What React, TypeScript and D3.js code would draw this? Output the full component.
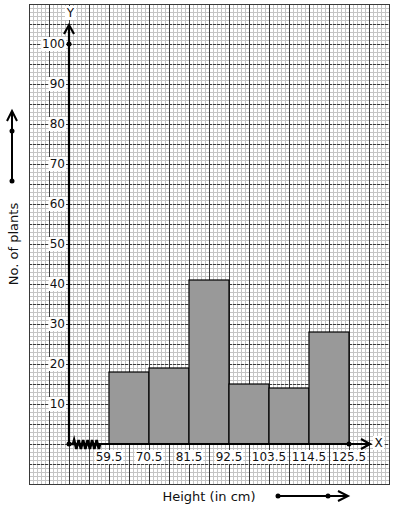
import React from "react";
import * as d3 from "d3";

const classEdges = [59.5, 70.5, 81.5, 92.5, 103.5, 114.5, 125.5];
const frequencies = [18, 19, 41, 15, 14, 28];
const yTicks = [10, 20, 30, 40, 50, 60, 70, 80, 90, 100];
const xTitle = "Height (in cm)";
const yTitle = "No. of plants";

const W = 394;
const H = 510;
const FONT = "DejaVu Sans, sans-serif";

export default function App() {
  // scales
  const x = d3.scaleLinear().domain([59.5, 125.5]).range([109, 349]);
  const y = d3.scaleLinear().domain([0, 100]).range([444, 44]);
  const originX = x(59.5) - 40; // axis break gap
  const originY = y(0);

  // graph paper extents (data units)
  const yMin = -10, yMax = 110;
  const gx0 = 29, gx1 = 389;
  const gy0 = y(yMax), gy1 = y(yMin);

  const minorX = d3.range(gx0, gx1 + 0.1, 4);
  const minorY = d3.range(yMin, yMax + 0.1, 1).map((v) => y(v));
  const majorX = d3.range(gx0, gx1 + 0.1, 20);
  const majorY = d3.range(yMin, yMax + 0.1, 5).map((v) => y(v));

  const bars = frequencies.map((f, i) => ({
    x0: x(classEdges[i]),
    x1: x(classEdges[i + 1]),
    y: y(f),
  }));

  // zigzag for axis break
  const zz: string[] = [`M${originX},${originY}`, `L${originX + 4},${originY}`];
  const teeth = 6;
  const zStart = originX + 4;
  const zEnd = x(59.5) - 9;
  const step = (zEnd - zStart) / teeth;
  for (let i = 0; i < teeth; i++) {
    zz.push(`L${zStart + step * (i + 0.25)},${originY - 4}`);
    zz.push(`L${zStart + step * (i + 0.75)},${originY + 5}`);
  }
  zz.push(`L${zEnd},${originY}`);

  const labelW = (s: string) => {
    let w = 0;
    for (const c of s) w += c === "." ? 3.8 : 7.63;
    return w;
  };

  const arrowTop = 25;
  const arrowRight = 370;

  return (
    <svg
      width={W}
      height={H}
      style={{ position: "absolute", left: 0, top: 0, background: "#fff" }}
      fontFamily={FONT}
    >
      <rect x={0} y={0} width={W} height={H} fill="#fff" />
      {/* minor grid */}
      <g stroke="#c4c4c4" strokeWidth={1} shapeRendering="crispEdges">
        {minorX.map((px, i) => (
          <line key={"mx" + i} x1={px + 0.5} x2={px + 0.5} y1={gy0} y2={gy1} />
        ))}
        {minorY.map((py, i) => (
          <line key={"my" + i} x1={gx0} x2={gx1} y1={py + 0.5} y2={py + 0.5} />
        ))}
      </g>
      {/* major grid */}
      <g stroke="#3a3a3a" strokeWidth={1} shapeRendering="crispEdges">
        {majorX.map((px, i) => (
          <line key={"Mx" + i} x1={px + 0.5} x2={px + 0.5} y1={gy0} y2={gy1} />
        ))}
        {majorY.map((py, i) => (
          <line
            key={"My" + i}
            x1={gx0}
            x2={gx1}
            y1={py + 0.5}
            y2={py + 0.5}
            strokeDasharray="3,1"
          />
        ))}
        <rect x={gx0 + 0.5} y={gy0 + 0.5} width={gx1 - gx0} height={gy1 - gy0} fill="none" />
      </g>

      {/* bars */}
      <g>
        {bars.map((b, i) => (
          <rect
            key={"b" + i}
            x={b.x0}
            y={b.y}
            width={b.x1 - b.x0}
            height={originY - b.y}
            fill="#999999"
            stroke="#000"
            strokeWidth={1.2}
          />
        ))}
      </g>

      {/* axes */}
      <g stroke="#000" strokeWidth={2.2} fill="none">
        <line x1={originX} x2={originX} y1={originY} y2={arrowTop + 1} />
        <polyline points={`${originX - 5},${arrowTop + 9} ${originX},${arrowTop} ${originX + 5},${arrowTop + 9}`} />
        <line x1={originX} x2={arrowRight - 1} y1={originY} y2={originY} />
        <polyline points={`${arrowRight - 9},${originY - 5} ${arrowRight},${originY} ${arrowRight - 9},${originY + 5}`} />
        <path d={zz.join(" ")} strokeWidth={2.6} strokeLinejoin="miter" />
      </g>
      <g fill="#000">
        <circle cx={originX} cy={originY} r={2.5} />
        <circle cx={originX} cy={y(100)} r={2.5} />
        <circle cx={x(125.5)} cy={originY} r={2.5} />
      </g>

      {/* y tick labels */}
      <g fontSize={12} fill="#111">
        {yTicks.map((t) => {
          const s = String(t);
          const w = labelW(s);
          return (
            <g key={"yt" + t}>
              <rect x={65 - w - 1} y={y(t) - 7} width={w + 2} height={14} fill="#fff" />
              <text x={65} y={y(t)} textAnchor="end" dominantBaseline="central">
                {s}
              </text>
            </g>
          );
        })}
      </g>

      {/* x tick labels */}
      <g fontSize={12} fill="#111">
        {classEdges.map((t) => {
          const s = String(t);
          const w = labelW(s);
          return (
            <g key={"xt" + t}>
              <rect x={x(t) - w / 2 - 1} y={450} width={w + 2} height={14} fill="#fff" />
              <text x={x(t)} y={457} textAnchor="middle" dominantBaseline="central">
                {s}
              </text>
            </g>
          );
        })}
      </g>

      {/* axis letters */}
      <g fontSize={12} fill="#111">
        <rect x={65} y={6} width={11} height={14} fill="#fff" />
        <text x={70.5} y={13} textAnchor="middle" dominantBaseline="central">Y</text>
        <rect x={373} y={436} width={11} height={14} fill="#fff" />
        <text x={378.5} y={443} textAnchor="middle" dominantBaseline="central">X</text>
      </g>

      {/* axis titles */}
      <text
        x={209}
        y={496}
        fontSize={13}
        fill="#111"
        textAnchor="middle"
        dominantBaseline="central"
      >
        {xTitle}
      </text>
      <text
        transform={`translate(13,244) rotate(-90)`}
        fontSize={13}
        fill="#111"
        textAnchor="middle"
        dominantBaseline="central"
      >
        {yTitle}
      </text>

      {/* decorative direction arrows */}
      <g stroke="#000" strokeWidth={2} fill="none">
        <line x1={12} x2={12} y1={181} y2={112} />
        <polyline points="7,121 12,111 17,121" />
        <line x1={278} x2={346} y1={496} y2={496} />
        <polyline points="338,491 348,496 338,501" />
      </g>
      <g fill="#000">
        <circle cx={12} cy={131} r={2.5} />
        <circle cx={12} cy={181} r={2.5} />
        <circle cx={278} cy={496} r={2.5} />
        <circle cx={328} cy={496} r={2.5} />
      </g>
    </svg>
  );
}
